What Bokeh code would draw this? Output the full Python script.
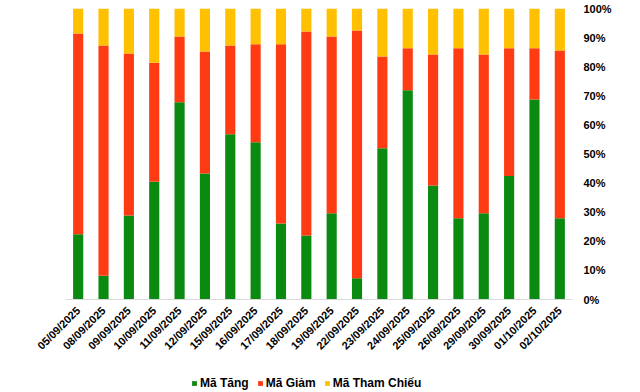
import math
from bokeh.plotting import figure
from bokeh.layouts import column
from bokeh.models import LinearAxis, NumeralTickFormatter, FixedTicker, Legend, LegendItem, Range1d, FactorRange
from bokeh.embed import file_html
from bokeh.resources import INLINE

dates = ["05/09/2025", "08/09/2025", "09/09/2025", "10/09/2025", "11/09/2025",
         "12/09/2025", "15/09/2025", "16/09/2025", "17/09/2025", "18/09/2025",
         "19/09/2025", "22/09/2025", "23/09/2025", "24/09/2025", "25/09/2025",
         "26/09/2025", "29/09/2025", "30/09/2025", "01/10/2025", "02/10/2025"]
ma_tang = [22.4, 8.2, 28.9, 40.5, 67.8, 43.3, 56.8, 54.0, 26.1, 22.0,
           29.6, 7.3, 52.0, 71.9, 39.2, 27.9, 29.6, 42.4, 68.7, 27.9]
ma_giam = [69.0, 79.1, 55.6, 40.9, 22.6, 41.9, 30.5, 33.7, 61.6, 70.1,
           60.8, 85.1, 31.5, 14.4, 45.0, 58.4, 54.6, 43.9, 17.6, 57.7]
ma_tham_chieu = [8.6, 12.7, 15.5, 18.6, 9.6, 14.8, 12.7, 12.3, 12.3, 7.9,
                 9.6, 7.6, 16.5, 13.7, 15.8, 13.7, 15.8, 13.7, 13.7, 14.4]
series_names = ["Mã Tăng", "Mã Giảm", "Mã Tham Chiếu"]
colors = ["#0B8A12", "#FF3B14", "#FFC000"]

data = {
    "date": dates,
    "tang": [v / 100 for v in ma_tang],
    "giam": [v / 100 for v in ma_giam],
    "tc": [v / 100 for v in ma_tham_chieu],
}

FONT = "Liberation Sans"

p = figure(width=640, height=370, x_range=FactorRange(*dates, range_padding=0),
           y_range=Range1d(0, 1), output_backend="svg", toolbar_location=None,
           y_axis_location=None, min_border_left=65, min_border_right=68,
           min_border_top=8, min_border_bottom=71, outline_line_color=None)

p.vbar_stack(["tang", "giam", "tc"], x="date", width=0.4, source=data,
             color=colors, line_color=None)

p.xgrid.grid_line_color = None
p.ygrid.grid_line_color = None

xa = p.xaxis[0]
xa.major_label_orientation = math.pi / 4
xa.major_label_text_font = FONT
xa.major_label_text_font_style = "bold"
xa.major_label_text_font_size = "11px"
xa.major_label_text_color = "#000000"
xa.axis_line_color = "#D9D9D9"
xa.major_tick_line_color = None
xa.minor_tick_line_color = None
xa.major_tick_out = 0
xa.major_tick_in = 0
xa.major_label_standoff = 9

ya = LinearAxis(ticker=FixedTicker(ticks=[i / 10 for i in range(11)]),
                formatter=NumeralTickFormatter(format="0%"))
ya.axis_line_color = None
ya.major_tick_line_color = None
ya.minor_tick_line_color = None
ya.major_tick_out = 0
ya.major_tick_in = 0
ya.major_label_text_font = FONT
ya.major_label_text_font_style = "bold"
ya.major_label_text_font_size = "11px"
ya.major_label_text_color = "#000000"
ya.major_label_standoff = 11
p.add_layout(ya, "right")

# legend strip below the chart
lg = figure(width=640, height=22, x_range=FactorRange(*dates, range_padding=0),
            y_range=Range1d(0, 1), output_backend="svg", toolbar_location=None,
            x_axis_location=None, y_axis_location=None, min_border=0,
            outline_line_color=None)
lg.xgrid.grid_line_color = None
lg.ygrid.grid_line_color = None
lg_renderers = lg.vbar_stack(["tang", "giam", "tc"], x="date", width=0.4, source=data,
                             color=colors, line_color=None)
for r in lg_renderers:
    r.visible = False

legend = Legend(items=[LegendItem(label=n, renderers=[r]) for n, r in zip(series_names, lg_renderers)],
                orientation="horizontal", location=(126, 2),
                label_text_font=FONT, label_text_font_style="bold",
                label_text_font_size="12px", label_text_color="#000000",
                glyph_width=6, glyph_height=6, label_standoff=3, spacing=8,
                padding=2, margin=0, border_line_color=None, background_fill_alpha=0)
lg.add_layout(legend, "center")

layout = column(p, lg, spacing=0)
open("out.html", "w").write(file_html(layout, INLINE))
